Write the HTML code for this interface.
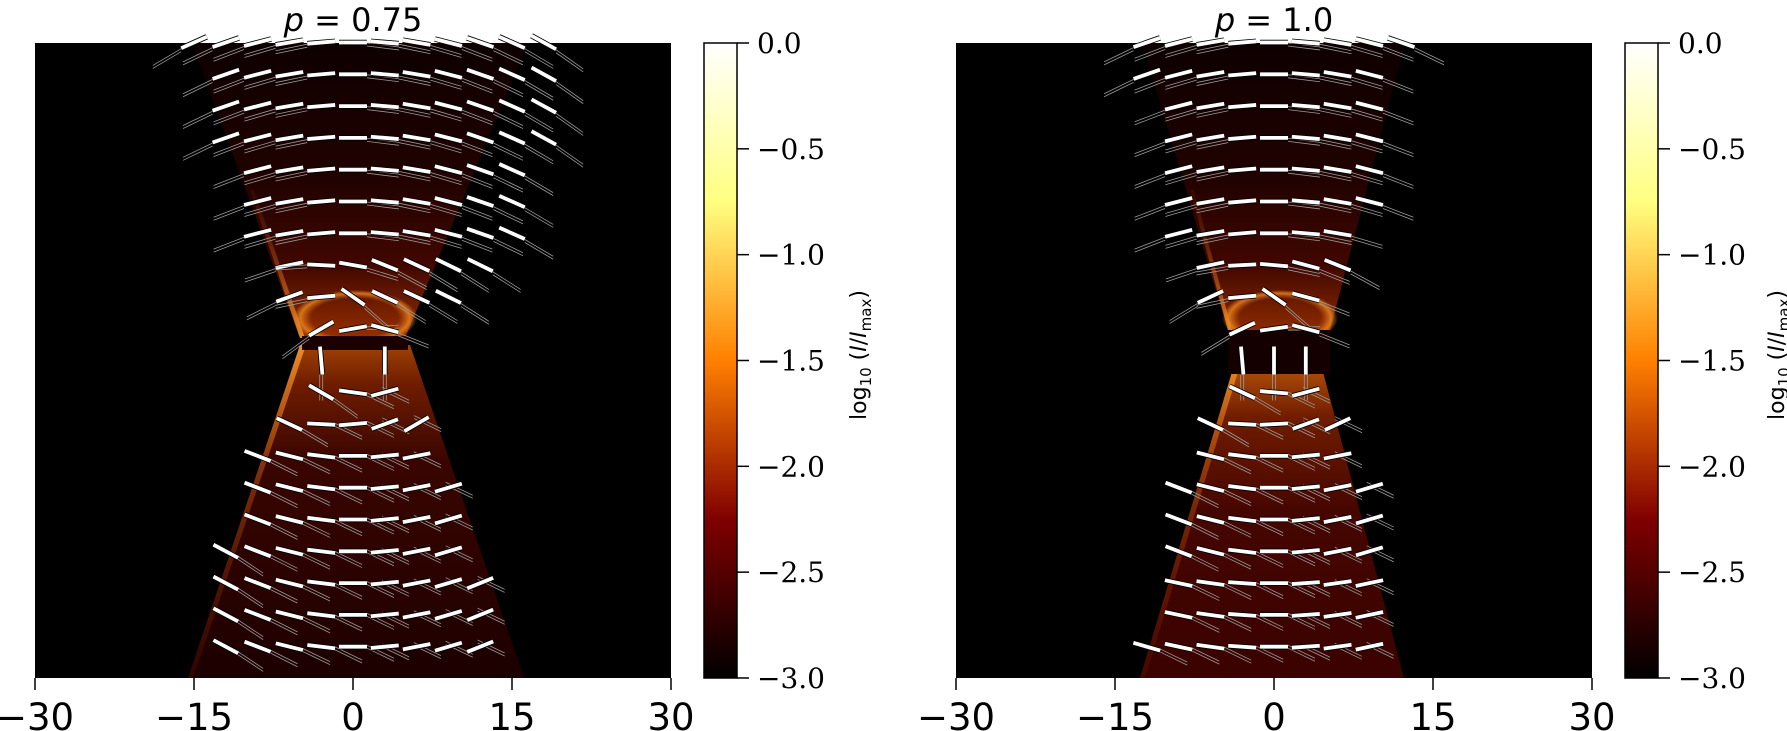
<!DOCTYPE html>
<html><head><meta charset="utf-8">
<style>
html,body{margin:0;padding:0;background:#fff;}
body{width:1787px;height:731px;overflow:hidden;}
svg{display:block;}
</style></head>
<body>
<svg id="s" width="1787" height="731" viewBox="0 0 1787 731" xmlns="http://www.w3.org/2000/svg">
<defs>
<linearGradient id="cb" x1="0" y1="1" x2="0" y2="0">
<stop offset="0" stop-color="#000"/>
<stop offset="0.25" stop-color="#800000"/>
<stop offset="0.5" stop-color="#ff8000"/>
<stop offset="0.75" stop-color="#ffff80"/>
<stop offset="1" stop-color="#fff"/>
</linearGradient>
<linearGradient id="topL" x1="0" y1="43" x2="0" y2="340" gradientUnits="userSpaceOnUse">
<stop offset="0" stop-color="#0e0000"/>
<stop offset="0.45" stop-color="#200200"/>
<stop offset="0.75" stop-color="#420700"/>
<stop offset="1" stop-color="#983000"/>
</linearGradient>
<linearGradient id="botL" x1="0" y1="345" x2="0" y2="678" gradientUnits="userSpaceOnUse">
<stop offset="0" stop-color="#a04205"/>
<stop offset="0.12" stop-color="#6e1c00"/>
<stop offset="0.35" stop-color="#3a0500"/>
<stop offset="1" stop-color="#1c0000"/>
</linearGradient>
<linearGradient id="botR" x1="0" y1="372" x2="0" y2="678" gradientUnits="userSpaceOnUse">
<stop offset="0" stop-color="#a84a08"/>
<stop offset="0.15" stop-color="#701c00"/>
<stop offset="0.45" stop-color="#460600"/>
<stop offset="1" stop-color="#3a0200"/>
</linearGradient>
<linearGradient id="edgeB" x1="0" y1="345" x2="0" y2="678" gradientUnits="userSpaceOnUse">
<stop offset="0" stop-color="#ffa030" stop-opacity="0.8"/>
<stop offset="0.4" stop-color="#e06a10" stop-opacity="0.4"/>
<stop offset="1" stop-color="#801800" stop-opacity="0.2"/>
</linearGradient>
<linearGradient id="edgeT" x1="0" y1="200" x2="0" y2="340" gradientUnits="userSpaceOnUse">
<stop offset="0" stop-color="#a03000" stop-opacity="0.15"/>
<stop offset="1" stop-color="#ffa030" stop-opacity="0.8"/>
</linearGradient>
<radialGradient id="ring" cx="0.5" cy="0.5" r="0.5">
<stop offset="0.7" stop-color="#e07010" stop-opacity="0"/>
<stop offset="0.88" stop-color="#f08a20" stop-opacity="0.8"/>
<stop offset="1" stop-color="#f08a20" stop-opacity="0"/>
</radialGradient>
</defs>

<rect x="35" y="43" width="636" height="635" fill="#000"/>
<polygon points="192,43 528,43 405,338 300,338" fill="url(#topL)"/>
<polygon points="300,345 410,345 524,678 188,678" fill="url(#botL)"/>
<polygon points="300,345 306,345 193,678 188,678" fill="url(#edgeB)"/>
<polygon points="250,190 254,190 305,338 300,338" fill="url(#edgeT)"/>
<ellipse cx="355" cy="318" rx="62" ry="28" fill="url(#ring)"/>
<rect x="302" y="336" width="106" height="14" fill="#1a0000"/>

<rect x="956" y="43" width="636" height="635" fill="#000"/>
<polygon points="1142,43 1405,43 1330,330 1228,330" fill="url(#topL)"/>
<polygon points="1232,372 1323,372 1404,678 1140,678" fill="url(#botR)"/>
<polygon points="1232,372 1238,372 1145,678 1140,678" fill="url(#edgeB)"/>
<polygon points="1190,190 1194,190 1232,330 1228,330" fill="url(#edgeT)"/>
<ellipse cx="1280" cy="318" rx="58" ry="28" fill="url(#ring)"/>
<rect x="1228" y="330" width="102" height="44" fill="#150000"/>

<g id="vec"></g>

<rect x="704" y="43" width="33" height="635" fill="url(#cb)" stroke="#000" stroke-width="1.5"/>
<rect x="1625" y="43" width="33" height="635" fill="url(#cb)" stroke="#000" stroke-width="1.5"/>
<g id="ticks" stroke="#000" stroke-width="1.5"></g>
<g id="labels"></g>

<text x="353" y="31" text-anchor="middle" font-family="DejaVu Sans, Liberation Sans, sans-serif" font-size="32"><tspan font-style="italic">p</tspan> = 0.75</text>
<text x="1274" y="31" text-anchor="middle" font-family="DejaVu Sans, Liberation Sans, sans-serif" font-size="32"><tspan font-style="italic">p</tspan> = 1.0</text>

<text transform="translate(866,355) rotate(-90)" text-anchor="middle" font-family="DejaVu Sans, Liberation Sans, sans-serif" font-size="22">log<tspan font-size="15" dy="5">10</tspan><tspan dy="-5"> (</tspan><tspan font-style="italic">I</tspan>/<tspan font-style="italic">I</tspan><tspan font-size="15" dy="5">max</tspan><tspan dy="-5">)</tspan></text>
<text transform="translate(1784,355) rotate(-90)" text-anchor="middle" font-family="DejaVu Sans, Liberation Sans, sans-serif" font-size="22">log<tspan font-size="15" dy="5">10</tspan><tspan dy="-5"> (</tspan><tspan font-style="italic">I</tspan>/<tspan font-style="italic">I</tspan><tspan font-size="15" dy="5">max</tspan><tspan dy="-5">)</tspan></text>
</svg>
<script>
var NS="http://www.w3.org/2000/svg";
function el(p,t,a){var e=document.createElementNS(NS,t);for(var k in a)e.setAttribute(k,a[k]);p.appendChild(e);return e;}
var tk=document.getElementById('ticks'),lb=document.getElementById('labels');
[[35,353],[956,1274]].forEach(function(p){
  [-30,-15,0,15,30].forEach(function(v){
    var x=p[1]+v*10.6;
    el(tk,'line',{x1:x,y1:678,x2:x,y2:690});
    var t=el(lb,'text',{x:x,y:730,'text-anchor':'middle','font-family':'DejaVu Sans, Liberation Sans, sans-serif','font-size':'37'});
    t.textContent=(v<0?'\u2212':'')+Math.abs(v);
  });
});
[737,1658].forEach(function(cx){
  for(var i=0;i<=6;i++){
    var y=43+i*105.83;
    el(tk,'line',{x1:cx,y1:y,x2:cx+12,y2:y});
    var t=el(lb,'text',{x:cx+20,y:y+10,'font-family':'DejaVu Serif, Liberation Serif, serif','font-size':'28'});
    t.textContent=(i==0?'':'\u2212')+(i*0.5).toFixed(1);
  }
});
var g=document.getElementById('vec');
function draw(cx,rows){
  var cy=360.5,sp=31.8;
  rows.forEach(function(r){
    var j=r[0],y=cy+j*sp;
    r[1].forEach(function(b){
      var k=b[0],ang=b[1],x=cx+k*sp;
      var rad=ang*Math.PI/180,L=14,dx=Math.cos(rad)*L,dy=Math.sin(rad)*L;
      var gx,gy,ga,o;
      if(j<0){ var s=(k<0?-1:1); gx=x+s*dx; gy=y+s*dy; ga=rad+(s<0?-0.06:0.06); var ex=gx+s*Math.cos(ga)*32, ey=gy+s*Math.sin(ga)*32+4;
        for(o=-1;o<=1;o+=2) el(g,'line',{x1:gx,y1:gy+o*1.5+2,x2:ex,y2:ey+o*1.5,stroke:'#999','stroke-width':'0.8'});}
      else if(j>0){ gx=x+(k<=0?dx:-dx*0.2); gy=y+dy; var a2=Math.max(rad,0.35)+0.1; var ex=gx+Math.cos(a2)*30, ey=gy+Math.sin(a2)*30;
        for(o=-1;o<=1;o+=2) el(g,'line',{x1:gx,y1:gy+o*1.5,x2:ex,y2:ey+o*1.5,stroke:'#999','stroke-width':'0.8'});}
      else { for(o=-1;o<=1;o+=2) el(g,'line',{x1:x+o*1.5,y1:y+14,x2:x+o*1.5,y2:y+40,stroke:'#999','stroke-width':'0.8'});}
      el(g,'line',{x1:x-dx,y1:y-dy,x2:x+dx,y2:y+dy,stroke:'#000','stroke-width':'5.5'});
      el(g,'line',{x1:x-dx,y1:y-dy,x2:x+dx,y2:y+dy,stroke:'#fff','stroke-width':'3.8'});
    });
  });
}
function range(a,b,f){var o=[];for(var k=a;k<=b;k++)o.push([k,f(k)]);return o;}
var topA=function(k){return 4.8*k;}, botA=function(k){return k<0?-7*k:-5.5*k;};
var rowsL=[
 [-10,range(-5,6,topA)],[-9,range(-4,6,topA)],[-8,range(-4,6,topA)],[-7,range(-4,6,topA)],
 [-6,range(-3,5,topA)],[-5,range(-3,5,topA)],[-4,range(-3,5,topA)],
 [-3,[[-2,-12],[-1,3],[0,10],[1,22],[2,25],[3,26],[4,26]]],
 [-2,[[-2,-20],[-1,-5],[0,35],[1,25],[2,25],[3,26]]],
 [-1,[[-1,-30],[0,-10],[1,15]]],
 [0,[[-1,85],[1,90]]],
 [1,[[-1,30],[0,8],[1,-15]]],
 [2,[[-2,25],[-1,3],[0,-5],[1,-20],[2,-30]]],
 [3,range(-3,2,botA)],[4,range(-3,3,botA)],[5,range(-3,3,botA)],[6,range(-4,3,botA)],
 [7,range(-4,4,botA)],[8,range(-4,4,botA)],[9,range(-4,4,botA)]
];
var rowsR=[
 [-10,range(-4,4,topA)],[-9,range(-4,3,topA)],[-8,range(-3,3,topA)],[-7,range(-3,3,topA)],
 [-6,range(-3,3,topA)],[-5,range(-3,3,topA)],[-4,range(-3,2,topA)],
 [-3,[[-2,-12],[-1,-3],[0,5],[1,15],[2,22]]],
 [-2,[[-2,-25],[-1,-5],[0,35],[1,15]]],
 [-1,[[-1,-25],[0,-8],[1,15]]],
 [0,[[-1,85],[0,90],[1,90]]],
 [1,[[-1,25],[0,5],[1,-15]]],
 [2,[[-2,25],[-1,3],[0,-3],[1,-20],[2,-25]]],
 [3,range(-2,2,botA)],[4,range(-3,3,botA)],[5,range(-3,3,botA)],[6,range(-3,3,botA)],
 [7,range(-3,3,function(k){return -4*k;})],[8,range(-3,3,function(k){return -4*k;})],[9,range(-4,3,function(k){return -4*k;})]
];
draw(353,rowsL);
draw(1274,rowsR);
</script>
</body></html>
